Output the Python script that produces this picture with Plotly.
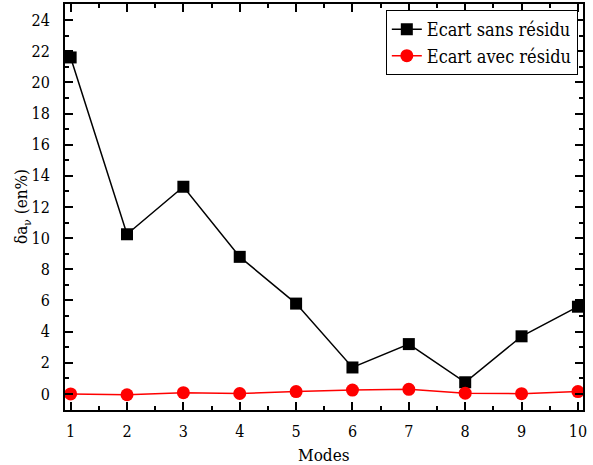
import plotly.graph_objects as go

modes = [1, 2, 3, 4, 5, 6, 7, 8, 9, 10]
ecart_sans = [21.6, 10.25, 13.3, 8.8, 5.8, 1.7, 3.2, 0.75, 3.7, 5.6]
ecart_avec = [0.0, -0.05, 0.08, 0.03, 0.15, 0.25, 0.3, 0.05, 0.02, 0.15]

x_title = "Modes"
y_title = "δa<sub>ν</sub> (en%)"

FONT = "DejaVu Serif Condensed, DejaVu Serif"

fig = go.Figure()
fig.add_trace(go.Scatter(
    x=modes, y=ecart_sans, mode="lines+markers", name="Ecart sans résidu",
    line=dict(color="black", width=1.5),
    marker=dict(symbol="square", size=12, color="black"),
))
fig.add_trace(go.Scatter(
    x=modes, y=ecart_avec, mode="lines+markers", name="Ecart avec résidu",
    line=dict(color="#ff0000", width=1.5),
    marker=dict(symbol="circle", size=13, color="#ff0000"),
))

axis_common = dict(
    showgrid=False, zeroline=False, showline=True, linecolor="black", linewidth=2,
    mirror="allticks", ticks="inside", ticklen=8, tickwidth=1.5, tickcolor="black",
    tickfont=dict(family=FONT, size=16, color="black"), automargin=False,
)

fig.update_xaxes(
    range=[0.9, 10.09], tickmode="array", tickvals=modes, ticklabelstandoff=6,
    minor=dict(ticks="inside", ticklen=4, tickwidth=1.5, tickcolor="black", dtick=0.5, tick0=0.5),
    **axis_common,
)
fig.update_yaxes(
    range=[-1.03, 25.03], tickmode="linear", tick0=0, dtick=2, ticklabelstandoff=10,
    minor=dict(ticks="inside", ticklen=4, tickwidth=1.5, tickcolor="black", dtick=1),
    **axis_common,
)

# axis titles placed as annotations for precise positioning
fig.add_annotation(
    text=x_title, xref="paper", yref="paper", x=0.5, y=0,
    xanchor="center", yanchor="middle", yshift=-45, showarrow=False,
    font=dict(family=FONT, size=17, color="black"),
)
fig.add_annotation(
    text=y_title, xref="paper", yref="paper", x=0, y=0.5,
    xanchor="center", yanchor="middle", xshift=-43, textangle=-90, showarrow=False,
    font=dict(family=FONT, size=17, color="black"),
)

fig.update_layout(
    width=593, height=465,
    margin=dict(l=65, r=10, t=4, b=55),
    paper_bgcolor="white", plot_bgcolor="white",
    showlegend=True,
    legend=dict(
        x=0.99, y=0.985, xanchor="right", yanchor="top",
        bordercolor="black", borderwidth=1, bgcolor="white",
        font=dict(family=FONT, size=18, color="black"),
        tracegroupgap=0, itemwidth=30,
    ),
)

fig.write_html("out.html")
